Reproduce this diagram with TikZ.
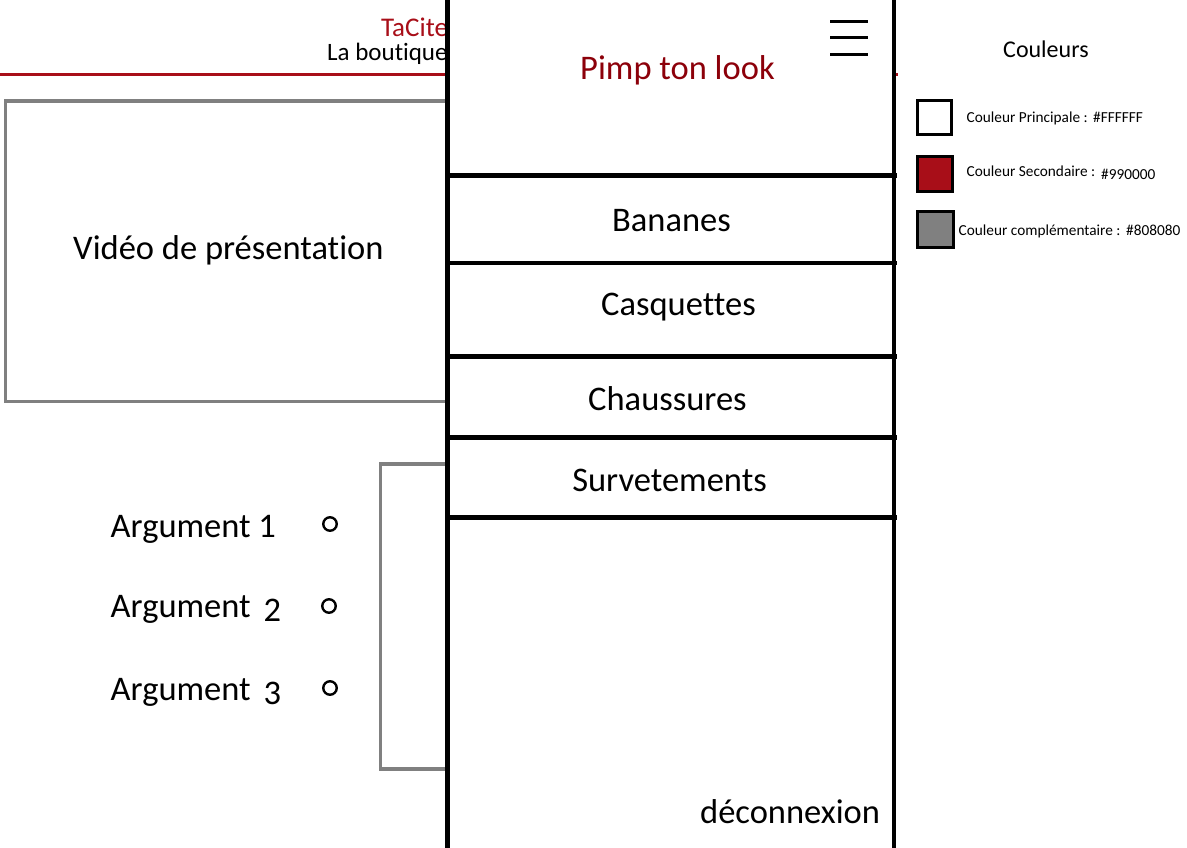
\documentclass[tikz,border=0pt]{standalone}
\usepackage{fontspec}
\setmainfont[Ligatures={NoCommon}]{Carlito}
\definecolor{accentred}{RGB}{168,14,24}
\definecolor{titlered}{RGB}{140,0,10}
\definecolor{framegray}{RGB}{128,128,128}
\begin{document}
\begin{tikzpicture}[x=1pt,y=-1pt,
  bigtxt/.style={font=\fontsize{34.5}{40}\selectfont, inner sep=0pt},
  midtxt/.style={font=\fontsize{24}{28}\selectfont, inner sep=0pt},
  smalltxt/.style={font=\fontsize{15.3}{18}\selectfont, inner sep=0pt},
  grayframe/.style={draw=framegray, line width=3.5pt},
  panelline/.style={draw=black, line width=4.8pt},
  bullet/.style={circle, draw=black, line width=2.4pt, minimum size=13.5pt, inner sep=0pt},
  swatch/.style={draw=black, line width=3pt, inner sep=0pt}
]
\useasboundingbox (0,0) rectangle (1187,848);
\clip (0,0) rectangle (1187,848);
\fill[white] (0,0) rectangle (1187,848);

% page behind the menu
\draw[grayframe] (5.5,101) rectangle (600,401.3);
\draw[grayframe] (380.5,464) rectangle (600,769);
\draw[draw=accentred, line width=3pt] (0,74.5) -- (898,74.5);
\node[font=\fontsize{27}{32}\selectfont, inner sep=0pt, text=accentred, anchor=base west] (brand) at (381,36.7) {TaCite};
\node[font=\fontsize{25}{30}\selectfont, inner sep=0pt, anchor=base west] (tagline) at (327,61) {La boutique};
\node[bigtxt, anchor=base west] (video) at (73,259) {Vidéo de présentation};
\node[bigtxt, anchor=base west] (arg1) at (110.5,537) {Argument 1};
\node[bigtxt, anchor=base west] (arg2) at (110.5,617) {Argument\hspace{13pt}\raisebox{-4pt}{2}};
\node[bigtxt, anchor=base west] (arg3) at (110.5,700) {Argument\hspace{13pt}\raisebox{-4pt}{3}};
\node[bullet] (b1) at (330,524) {};
\node[bullet] (b2) at (329,606) {};
\node[bullet] (b3) at (330,688) {};

% menu panel
\fill[white] (447.5,-5) rectangle (894,853);
\draw[panelline] (447.5,-5) -- (447.5,853);
\draw[panelline] (894,-5) -- (894,853);
\foreach \yy in {175.5,263,356.5,437.5,517.5}
  \draw[panelline, line width=4.5pt] (445,\yy) -- (897,\yy);
\foreach \yy in {22,38,54.5}
  \draw[line width=3pt] (830,\yy) -- (868,\yy);
\node[bigtxt, text=titlered, anchor=base] (title) at (677.5,80) {Pimp ton look};
\node[bigtxt, anchor=base] (m1) at (671.5,231) {Bananes};
\node[bigtxt, anchor=base] (m2) at (678.5,315.5) {Casquettes};
\node[bigtxt, anchor=base] (m3) at (667.5,410) {Chaussures};
\node[bigtxt, anchor=base] (m4) at (669.5,491.5) {Survetements};
\node[bigtxt, anchor=base west] (logout) at (700,823) {déconnexion};

% colour legend
\node[midtxt, anchor=base west] (legtitle) at (1003,57.5) {Couleurs};
\node[swatch, fill=white, minimum size=34pt] (s1) at (934.5,118) {};
\node[swatch, fill=accentred, minimum size=35pt] (s2) at (934.5,174) {};
\node[swatch, fill=framegray, minimum size=36pt] (s3) at (935.5,229.5) {};
\node[smalltxt, anchor=base west] (l1) at (966.5,123) {Couleur Principale :};
\node[smalltxt, anchor=base west] (h1) at (1093,123) {\#FFFFFF};
\node[smalltxt, anchor=base west] (l2) at (966.5,177) {Couleur Secondaire :};
\node[smalltxt, anchor=base west] (h2) at (1101,179) {\#990000};
\node[smalltxt, anchor=base west] (l3) at (958.5,236) {Couleur complémentaire :};
\node[smalltxt, anchor=base west] (h3) at (1126,236) {\#808080};
\end{tikzpicture}
\end{document}
